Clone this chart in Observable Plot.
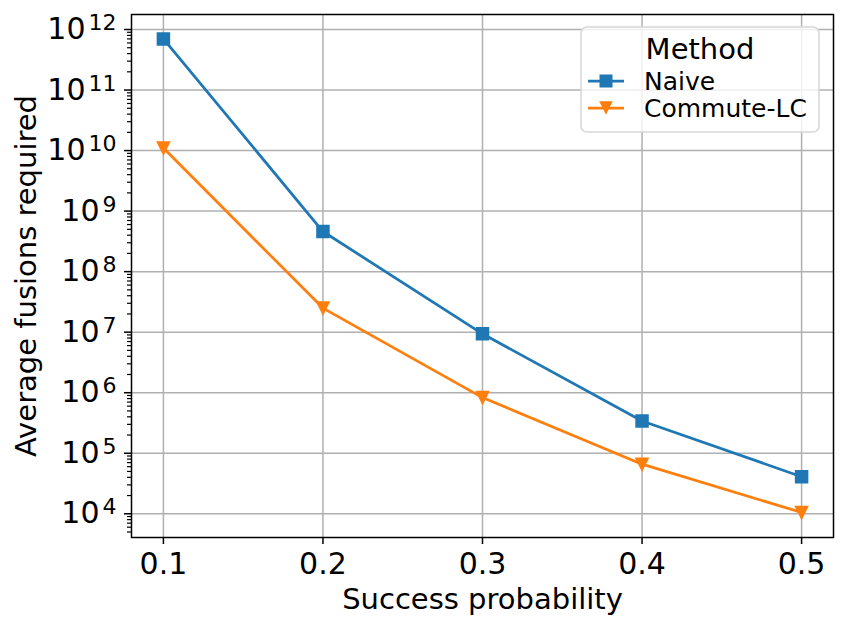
<!DOCTYPE html>
<html><head><meta charset="utf-8">
<script src="https://cdn.jsdelivr.net/npm/d3@7"></script>
<script src="https://cdn.jsdelivr.net/npm/@observablehq/plot@0.6"></script>
<style>body{margin:0;background:#fff} #chart svg{display:block}</style>
</head><body><div id="chart"></div>
<script>
const probabilities = [0.1, 0.2, 0.3, 0.4, 0.5];
const naive = [7.0e11, 4.6e8, 9.4e6, 3.4e5, 4.1e4];
const commuteLC = [1.1e10, 2.5e7, 8.3e5, 6.6e4, 1.05e4];
const seriesNames = ["Naive", "Commute-LC"];
const seriesColors = ["#1f77b4", "#ff7f0e"];
const xTicks = [0.1, 0.2, 0.3, 0.4, 0.5];
const yTicks = [1e4, 1e5, 1e6, 1e7, 1e8, 1e9, 1e10, 1e11, 1e12];
const legendTitle = "Method";
const xLabel = "Success probability";
const yLabel = "Average fusions required";

const yDomain = [Math.pow(10, 3.608), Math.pow(10, 12.248)];
const yMinor = [];
for (let e = 3; e <= 12; e++) for (let k = 2; k <= 9; k++) {
  const v = k * Math.pow(10, e);
  if (v >= yDomain[0] && v <= yDomain[1]) yMinor.push(v);
}

const rows = [];
probabilities.forEach((p, i) => {
  rows.push({p, v: naive[i], series: seriesNames[0]});
});
probabilities.forEach((p, i) => {
  rows.push({p, v: commuteLC[i], series: seriesNames[1]});
});

const downTriangle = {
  draw(context, size) {
    const h = Math.sqrt(size) / 2;
    context.moveTo(0, h);
    context.lineTo(-h, -h);
    context.lineTo(h, -h);
    context.closePath();
  }
};

const font = "DejaVu Sans";
const plot = Plot.plot({
  width: 847,
  height: 624,
  marginLeft: 131,
  marginRight: 14,
  marginTop: 14,
  marginBottom: 87,
  style: {fontFamily: font, background: "#fff", color: "#000"},
  x: {domain: [0.08, 0.52]},
  y: {type: "log", domain: yDomain},
  color: {domain: seriesNames, range: seriesColors},
  marks: [
    Plot.gridX(xTicks, {stroke: "#b0b0b0", strokeOpacity: 1, strokeWidth: 1.5}),
    Plot.gridY(yTicks, {stroke: "#b0b0b0", strokeOpacity: 1, strokeWidth: 1.5}),
    Plot.axisY(yMinor, {tickSize: 4, strokeWidth: 1.2, tickFormat: () => "", label: null}),
    Plot.axisY(yTicks, {
      tickSize: 7, tickPadding: 8, strokeWidth: 1.5, fontSize: 30,
      tickFormat: d => "10^" + Math.round(Math.log10(d)),
      label: yLabel, labelAnchor: "center", labelArrow: "none", labelOffset: 116
    }),
    Plot.axisX(xTicks, {
      tickSize: 7, tickPadding: 8, strokeWidth: 1.5, fontSize: 30,
      tickFormat: d3.format(".1f"),
      label: xLabel, labelAnchor: "center", labelArrow: "none", labelOffset: 71
    }),
    Plot.line(rows, {x: "p", y: "v", stroke: "series", strokeWidth: 2.75}),
    Plot.dot(rows.filter(d => d.series === seriesNames[0]), {x: "p", y: "v", symbol: "square", r: 6.6, fill: "series", stroke: "series", strokeWidth: 1.8}),
    Plot.dot(rows.filter(d => d.series === seriesNames[1]), {x: "p", y: "v", symbol: downTriangle, r: 6.6, fill: "series", stroke: "series", strokeWidth: 1.8}),
    Plot.frame({stroke: "#000", strokeWidth: 1.5})
  ]
});

const svg = d3.select(plot);
svg.selectAll('g[aria-label="y-axis tick label"] text').each(function () {
  const t = this.textContent;
  if (!t.startsWith("10^")) return;
  const exp = t.slice(3);
  const el = d3.select(this);
  el.text("");
  el.append("tspan").text("10");
  el.append("tspan").attr("font-size", 22).attr("dy", -9).attr("dx", 3).text(exp);
});
svg.selectAll('g[aria-label="y-axis label"], g[aria-label="x-axis label"]').attr("font-size", 29);

// legend
const lg = svg.append("g").attr("font-family", font).attr("text-anchor", "start");
lg.append("rect").attr("x", 581).attr("y", 27).attr("width", 238).attr("height", 105)
  .attr("rx", 6).attr("fill", "#fff").attr("fill-opacity", 0.8)
  .attr("stroke", "#d6d6d6").attr("stroke-width", 1.5);
lg.append("text").attr("x", 700).attr("y", 59).attr("text-anchor", "middle")
  .attr("font-size", 29).text(legendTitle);
const entryY = [81, 108];
seriesNames.forEach((name, i) => {
  const y = entryY[i];
  lg.append("line").attr("x1", 588).attr("x2", 624).attr("y1", y).attr("y2", y)
    .attr("stroke", seriesColors[i]).attr("stroke-width", 2.75);
  if (i === 0) {
    lg.append("rect").attr("x", 599.5).attr("y", y - 6.5).attr("width", 13).attr("height", 13).attr("fill", seriesColors[i]);
  } else {
    lg.append("path").attr("d", `M606,${y + 6.8}L599.2,${y - 6.8}L612.8,${y - 6.8}Z`).attr("fill", seriesColors[i]);
  }
  lg.append("text").attr("x", 644).attr("y", y + 9).attr("font-size", 25).text(name);
});

document.getElementById("chart").appendChild(plot);
</script>
</body></html>
